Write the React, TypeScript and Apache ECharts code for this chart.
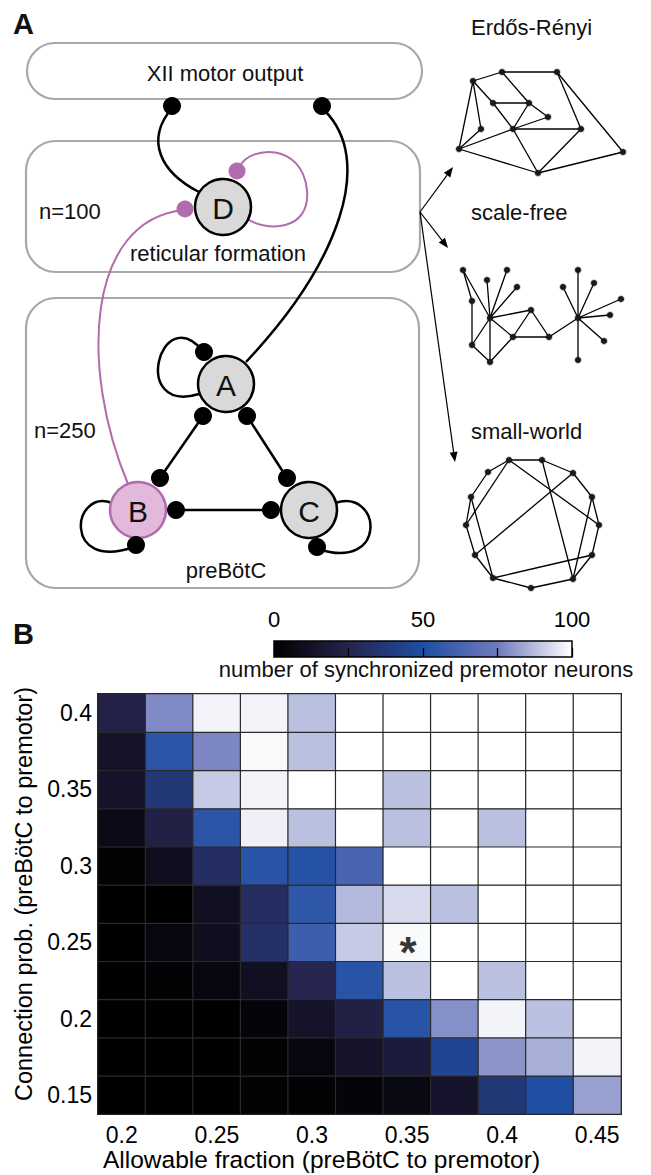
import React, { useEffect, useRef } from 'react';
import * as echarts from 'echarts';

const FONT = '"Liberation Sans", Arial, Helvetica, sans-serif';

// ---- Heatmap data (panel B) ----
const xCats = ['0.2', '0.225', '0.25', '0.275', '0.3', '0.325', '0.35', '0.375', '0.4', '0.425', '0.45'];
const yCats = ['0.15', '0.175', '0.2', '0.225', '0.25', '0.275', '0.3', '0.325', '0.35', '0.375', '0.4'];
const row015 = [0, 0, 0, 2, 1, 3, 6, 14, 37, 50, 82];
const row0175 = [0, 0, 0, 2, 5, 13, 19, 45, 80, 85, 98];
const row020 = [0, 0, 0, 3, 13, 22, 53, 79, 98, 88, 100];
const row0225 = [0, 2, 5, 11, 26, 53, 88, 100, 88, 100, 100];
const row025 = [0, 5, 10, 32, 59, 90, 99, 100, 100, 100, 100];
const row0275 = [0, 0, 11, 30, 55, 87, 93, 88, 100, 100, 100];
const row030 = [2, 10, 31, 53, 52, 63, 100, 100, 100, 100, 100];
const row0325 = [7, 22, 54, 97, 88, 100, 88, 100, 88, 100, 100];
const row035 = [13, 37, 90, 98, 100, 100, 88, 100, 100, 100, 100];
const row0375 = [13, 54, 77, 99, 88, 100, 100, 100, 100, 100, 100];
const row040 = [23, 78, 98, 98, 88, 100, 100, 100, 100, 100, 100];
const rows = [row015, row0175, row020, row0225, row025, row0275, row030, row0325, row035, row0375, row040];
const markedCell = ['0.35', '0.25'];

const colorStops = ['#000000', '#26244e', '#1f4ea3', '#6f7bbd', '#ffffff'];
const cbMin = 0;
const cbMax = 100;
const cbInterval = 25;
const cbLabelled = [0, 50, 100];

// ---- Diagram helpers (panel A) ----
const txt = (x: number, y: number, text: string, size: number, align = 'center', weight = 'normal') => ({
  type: 'text', x, y,
  style: { text, fontSize: size, fontFamily: FONT, fontWeight: weight, fill: '#111',
    textAlign: align, textVerticalAlign: 'middle', align, verticalAlign: 'middle' },
});
const circ = (cx: number, cy: number, r: number, fill: string, stroke?: string, lw = 0) => ({
  type: 'circle', shape: { cx, cy, r }, style: { fill, stroke: stroke || null, lineWidth: lw },
});
const ln = (x1: number, y1: number, x2: number, y2: number, stroke = '#000', lw = 2.5) => ({
  type: 'line', shape: { x1, y1, x2, y2 }, style: { stroke, lineWidth: lw },
});
const bez = (x1: number, y1: number, cpx1: number, cpy1: number, cpx2: number, cpy2: number, x2: number, y2: number, stroke = '#000', lw = 2.5) => ({
  type: 'bezierCurve', shape: { x1, y1, cpx1, cpy1, cpx2, cpy2, x2, y2 }, style: { stroke, lineWidth: lw, fill: 'none' },
});
const box = (x: number, y: number, w: number, h: number, r: number) => ({
  type: 'rect', shape: { x, y, width: w, height: h, r }, style: { fill: 'none', stroke: '#a8a8a8', lineWidth: 2.2 },
});
const arrow = (x1: number, y1: number, x2: number, y2: number) => {
  const dx = x2 - x1, dy = y2 - y1, L = Math.hypot(dx, dy), ux = dx / L, uy = dy / L;
  const hl = 10, hw = 4;
  const bx = x2 - ux * hl, by = y2 - uy * hl;
  return [
    ln(x1, y1, bx, by, '#000', 1.2),
    { type: 'polygon', shape: { points: [[x2, y2], [bx - uy * hw, by + ux * hw], [bx + uy * hw, by - ux * hw]] }, style: { fill: '#000' } },
  ];
};

const PURPLE = '#b06cae';
const GRAY = '#d9d9d9';

// network sketches
const erNodes = [[473, 81], [502, 72], [557, 72], [493, 103], [529, 103], [548, 117], [481, 129], [513, 129], [581, 129], [459, 149], [538, 173], [623, 152]];
const erEdges = [[0, 1], [1, 2], [2, 8], [2, 11], [0, 9], [0, 6], [1, 4], [3, 4], [0, 3], [3, 7], [7, 10], [4, 7], [7, 5], [4, 5], [7, 8], [8, 10], [9, 7], [9, 10], [10, 11], [9, 6]];
const sfNodes: Record<string, number[]> = {
  a: [463, 270], b: [487, 280], c: [507, 270], d: [517, 287], e: [472, 301], f: [490, 318], g: [531, 310],
  h: [513, 337], i: [549, 337], j: [472, 345], k: [490, 362], l: [578, 270], m: [563, 287], n: [594, 283],
  o: [621, 299], p: [610, 315], q: [578, 318], r: [604, 341], s: [578, 360],
};
const sfEdges = ['fa', 'fb', 'fc', 'fd', 'ae', 'ej', 'jf', 'jk', 'kf', 'kh', 'hf', 'hg', 'gi', 'hi', 'fg', 'iq', 'ql', 'qm', 'qn', 'qo', 'qp', 'qr', 'qs'];
const swNodes = [[509, 460], [542, 460], [573, 473], [592, 497], [599, 525], [592, 555], [573, 579], [531, 588], [493, 578], [475, 555], [466, 525], [471, 497], [488, 472]];
const swExtra = [[0, 10], [0, 4], [1, 6], [2, 9], [3, 6], [11, 8], [8, 5]];

function networkGraphics() {
  const g: any[] = [];
  const node = (p: number[]) => circ(p[0], p[1], 3, '#1a1a1a', 'rgba(0,0,0,0.25)', 1.5);
  erEdges.forEach(([a, b]) => g.push(ln(erNodes[a][0], erNodes[a][1], erNodes[b][0], erNodes[b][1], '#000', 1.3)));
  erNodes.forEach((p) => g.push(node(p)));
  sfEdges.forEach((e) => { const A = sfNodes[e[0]], B = sfNodes[e[1]]; g.push(ln(A[0], A[1], B[0], B[1], '#000', 1.3)); });
  Object.values(sfNodes).forEach((p) => g.push(node(p)));
  swNodes.forEach((p, i) => { const q = swNodes[(i + 1) % swNodes.length]; g.push(ln(p[0], p[1], q[0], q[1], '#000', 1.3)); });
  swExtra.forEach(([a, b]) => g.push(ln(swNodes[a][0], swNodes[a][1], swNodes[b][0], swNodes[b][1], '#000', 1.3)));
  swNodes.forEach((p) => g.push(node(p)));
  return g;
}

function diagram() {
  const g: any[] = [];
  g.push(txt(13, 24, 'A', 29, 'left', 'bold'));
  g.push(txt(13, 634, 'B', 29, 'left', 'bold'));
  // boxes
  g.push(box(27, 43, 395, 56, 28));
  g.push(box(26, 141, 394, 131, 30));
  g.push(box(26, 298, 393, 290, 30));
  g.push(txt(225, 73, 'XII motor output', 22));
  g.push(txt(39, 211, 'n=100', 22, 'left'));
  g.push(txt(218, 253, 'reticular formation', 22));
  g.push(txt(34, 430, 'n=250', 22, 'left'));
  g.push(txt(226, 570, 'preBötC', 22));
  // connections
  g.push(bez(172, 108, 145, 140, 160, 172, 199, 192));
  g.push(bez(324, 110, 375, 160, 340, 262, 246, 362));
  g.push(bez(240, 166, 250, 146, 302, 142, 307, 190, PURPLE, 2));
  g.push(bez(307, 190, 311, 232, 265, 232, 246, 218, PURPLE, 2));
  g.push(bez(184, 210, 85, 220, 80, 370, 128, 484, PURPLE, 2));
  g.push(bez(203, 351, 160, 300, 130, 415, 199, 394));
  g.push(bez(112, 503, 72, 488, 62, 572, 134, 547));
  g.push(bez(335, 503, 382, 488, 388, 572, 318, 549));
  g.push(ln(203, 416, 160, 478));
  g.push(ln(247, 416, 287, 478));
  g.push(ln(176, 510, 271, 510));
  // nodes
  g.push(circ(223, 207, 28, GRAY, '#000', 2.5));
  g.push(circ(226, 384, 28, GRAY, '#000', 2.5));
  g.push(circ(138, 510, 28, '#e3b9db', PURPLE, 2.5));
  g.push(circ(309, 510, 28, GRAY, '#000', 2.5));
  g.push(txt(223, 208, 'D', 30));
  g.push(txt(226, 385, 'A', 30));
  g.push(txt(138, 511, 'B', 30));
  g.push(txt(309, 511, 'C', 30));
  // synapse dots
  [[172, 106], [322, 106], [204, 352], [203, 416], [247, 416], [160, 478], [176, 510], [136, 545], [287, 478], [271, 510], [317, 547]]
    .forEach(([x, y]) => g.push(circ(x, y, 9, '#000')));
  g.push(circ(237, 171, 8.5, PURPLE));
  g.push(circ(185, 209, 8.5, PURPLE));
  // arrows to networks
  g.push(...arrow(420, 212, 453, 167));
  g.push(...arrow(420, 212, 448, 248));
  g.push(...arrow(420, 212, 455, 462));
  g.push(txt(471, 27, 'Erdős-Rényi', 22, 'left'));
  g.push(txt(471, 212, 'scale-free', 22, 'left'));
  g.push(txt(471, 431, 'small-world', 22, 'left'));
  g.push(...networkGraphics());
  // colorbar
  g.push({
    type: 'rect', shape: { x: 274, y: 641, width: 298, height: 16 },
    style: {
      fill: new echarts.graphic.LinearGradient(0, 0, 1, 0, colorStops.map((c, i) => ({ offset: i / (colorStops.length - 1), color: c }))),
      stroke: '#000', lineWidth: 1.5,
    },
  });
  g.push(txt(426, 669, 'number of synchronized premotor neurons', 22));
  return g;
}

export default function App() {
  const ref = useRef<HTMLDivElement>(null);
  useEffect(() => {
    if (!ref.current) return;
    const chart = echarts.init(ref.current, undefined, { renderer: 'svg' });
    const data: any[] = [];
    rows.forEach((r, yi) => r.forEach((v, xi) => data.push([xi, yi, v])));
    const axisText = { fontSize: 23, color: '#000', fontFamily: FONT };
    chart.setOption({
      animation: false,
      backgroundColor: '#fff',
      grid: [
        { left: 98, top: 694, width: 523, height: 420, show: true, borderColor: '#000', borderWidth: 2, backgroundColor: 'transparent' },
        { left: 274, top: 641, width: 298, height: 16, show: false },
      ],
      xAxis: [
        {
          type: 'category', data: xCats, gridIndex: 0,
          axisLine: { show: false }, axisTick: { show: false }, splitLine: { show: false },
          axisLabel: { ...axisText, interval: 1, margin: 9 },
          name: 'Allowable fraction (preBötC to premotor)', nameLocation: 'middle', nameGap: 32,
          nameTextStyle: { fontSize: 24.5, color: '#000', fontFamily: FONT, verticalAlign: 'top', padding: [0, 76, 0, 0] },
        },
        {
          type: 'value', gridIndex: 1, min: cbMin, max: cbMax, interval: cbInterval, position: 'top',
          axisLine: { show: false }, splitLine: { show: false },
          axisTick: { show: true, length: 9, lineStyle: { color: '#000', width: 1.3 } },
          axisLabel: { ...axisText, fontSize: 22, margin: 11, formatter: (v: number) => (cbLabelled.includes(v) ? String(v) : '') },
        },
      ],
      yAxis: [
        {
          type: 'category', data: yCats, gridIndex: 0,
          axisLine: { show: false }, axisTick: { show: false }, splitLine: { show: false },
          axisLabel: { ...axisText, interval: 1, margin: 6 },
          name: 'Connection prob. (preBötC to premotor)', nameLocation: 'middle', nameGap: 61, nameRotate: 90,
          nameTextStyle: { fontSize: 23.5, color: '#000', fontFamily: FONT, padding: [0, 0, 0, 20] },
        },
        { type: 'value', gridIndex: 1, show: false, min: 0, max: 1 },
      ],
      visualMap: {
        show: false, min: cbMin, max: cbMax, seriesIndex: 0, dimension: 2,
        inRange: { color: colorStops },
      },
      series: [
        {
          type: 'heatmap', xAxisIndex: 0, yAxisIndex: 0, data,
          itemStyle: { borderColor: '#2a2a2a', borderWidth: 1.2 },
          emphasis: { disabled: true },
        },
        {
          type: 'scatter', xAxisIndex: 0, yAxisIndex: 0, data: [markedCell], symbolSize: 1,
          itemStyle: { color: 'rgba(0,0,0,0)' }, z: 5,
          label: { show: true, position: 'inside', formatter: '*', fontSize: 44, fontWeight: 'bold', color: '#000', fontFamily: FONT, offset: [1, 10] },
        },
      ],
      graphic: diagram(),
    });
    return () => chart.dispose();
  }, []);
  return <div ref={ref} style={{ position: 'fixed', left: 0, top: 0, width: 651, height: 1175 }} />;
}
